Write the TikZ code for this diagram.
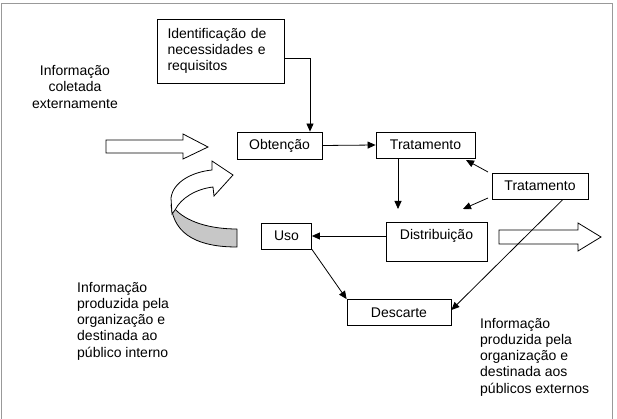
\documentclass[tikz,border=0pt]{standalone}
\usepackage{fontspec}
\setmainfont{Liberation Sans}
\usetikzlibrary{arrows.meta}
\begin{document}
\begin{tikzpicture}[x=1pt,y=-1pt,
  every node/.style={font=\fontsize{14}{16.3}\selectfont},
  boxnode/.style={draw, line width=0.8pt, fill=white, inner sep=0pt},
  conn/.style={line width=0.8pt, -{Triangle[length=8pt,width=7pt]}},
  blockarrow/.style={draw, line width=0.8pt, fill=white, line join=miter},
  txt/.style={inner sep=0pt, align=left}]
\useasboundingbox (0,0) rectangle (617,419);
% frame
\draw[gray!80, line width=0.8pt] (1.5,419) -- (1.5,3) -- (612,3) -- (612,419);

% boxes
\node[boxnode, minimum width=127pt, minimum height=64pt, text width=106pt, align=left] (ident) at (220.5,51) {Identificação de\\necessidades e\\requisitos};
\node[boxnode, minimum width=85pt, minimum height=27pt] (obt) at (279.5,145.5) {Obtenção};
\node[boxnode, minimum width=99pt, minimum height=26pt] (trat1) at (425.5,145) {Tratamento};
\node[boxnode, minimum width=96pt, minimum height=26pt] (trat2) at (540,186) {Tratamento};
\node[boxnode, minimum width=101pt, minimum height=39pt] (dist) at (436.5,241.5) {};
\node[inner sep=0pt] (distlabel) at ([yshift=6pt]dist.center) {Distribuição};
\node[boxnode, minimum width=50pt, minimum height=26pt] (uso) at (286.5,236) {Uso};
\node[boxnode, minimum width=104pt, minimum height=26pt] (desc) at (399,312.5) {Descarte};

% texts
\node[inner sep=0pt, align=center] (ext) at (75,87) {Informação\\coletada\\externamente};
\node[txt, anchor=west] (interno) at (77,321) {Informação\\produzida pela\\organização e\\destinada ao\\público interno};
\node[txt, anchor=west] (externo) at (480,357) {Informação\\produzida pela\\organização e\\destinada aos\\públicos externos};

% free ends
\coordinate (d1) at (398,209);
\coordinate (t2a) at (488,172);
\coordinate (t2atip) at (466,160);
\coordinate (t2b) at (488,198);
\coordinate (t2btip) at (463,209);

% block arrows
\draw[blockarrow] (106,140) -- (183,140) -- (183,134) -- (208,147) -- (183,159) -- (183,153) -- (106,153) -- cycle;
\draw[blockarrow] (499,230) -- (578,230) -- (578,223) -- (601,237) -- (578,251) -- (578,244) -- (499,244) -- cycle;

% curved arrow
\draw[line width=0.8pt, fill=black!22, line join=round] (174,208) .. controls (186,222) and (210,229) .. (237,229) -- (237,247) .. controls (200,247) and (174,236) .. (171,205) -- cycle;
\draw[line width=0.8pt, fill=white, line join=miter] (172,214) -- (171,198) .. controls (173,182) and (192,172) .. (212,170) -- (212,161) -- (233,175) -- (214,196) -- (213,187) .. controls (196,189) and (181,198) .. (175,210) -- cycle;

% connectors
\draw[conn] ([yshift=-7pt]ident.east) -| ([xshift=30.5pt]obt.north);
\draw[conn] (obt.east) -- (trat1.west);
\draw[conn] ([xshift=-27.5pt]trat1.south) -- (d1);
\draw[conn] (t2a) -- (t2atip);
\draw[conn] (t2b) -- (t2btip);
\draw[conn] (uso.east -| dist.west) -- (uso.east);
\draw[conn] (uso.south east) -- (desc.north west);
\draw[conn] ([xshift=23pt]trat2.south) -- ([yshift=2.5pt]desc.east);
\end{tikzpicture}
\end{document}
